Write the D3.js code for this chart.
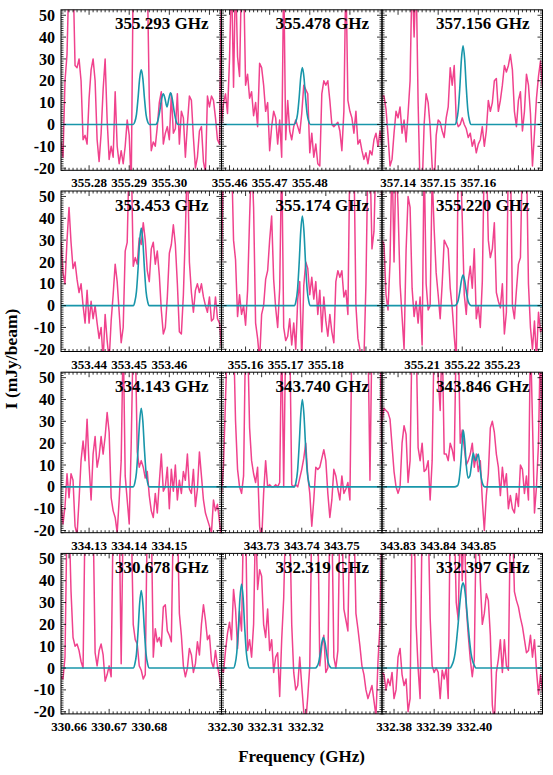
<!DOCTYPE html>
<html><head><meta charset="utf-8">
<script src="https://cdn.jsdelivr.net/npm/d3@7"></script>
<style>body{margin:0;background:#fff}svg{display:block}</style>
</head><body>
<svg id="chart" width="553" height="775"></svg>
<script>
// ---------------- DATA ----------------
const panelFreqs = [355.293, 355.478, 357.156, 353.453, 355.174, 355.220, 334.143, 343.740, 343.846, 330.678, 332.319, 332.397];
const xTickLabels = [
  [355.28, 355.29, 355.30], [355.46, 355.47, 355.48], [357.14, 357.15, 357.16],
  [353.44, 353.45, 353.46], [355.16, 355.17, 355.18], [355.21, 355.22, 355.23],
  [334.13, 334.14, 334.15], [343.73, 343.74, 343.75], [343.83, 343.84, 343.85],
  [330.66, 330.67, 330.68], [332.30, 332.31, 332.32], [332.38, 332.39, 332.40]
];
const yTickLabels = [-20, -10, 0, 10, 20, 30, 40, 50];
// channel grid (MHz offset from panel frequency)
const chanStartMHz = -20;
const chanStepMHz = 0.5;
// observed spectra (mJy/beam)
const spec1 = [-8,-15,20,32,70,70,70,27,26,30,20,-7,-5,-9,12,25,30,20,-7,-17,-4,16,30,2,-16,-10,-15,15,-10,-18,-12,-18,-10,2,-5,-28,70,70,70,70,70,70,70,70,12,-12,-8,-10,-1,10,15,-9,-4,-1,-7,14,-4,-2,14,-9,6,3,-15,0,13,11,-6,-20,-15,-3,-1,-17,-22,13,8,13,11,3,-7,-9,70];
const spec2 = [0,10,14,5,30,70,17,70,31,22,70,70,18,23,12,15,4,10,-1,28,26,18,6,10,-12,-1,6,3,-9,2,-15,70,-7,11,-3,-7,-1,2,-1,-4,5,18,16,14,-13,-4,-15,-9,-18,-19,14,20,18,20,11,0,-1,0,1,-3,-12,6,70,11,6,3,-4,6,-9,-7,-12,-16,-13,-18,-12,-14,-7,-4,-10,-3,-10];
const spec3 = [13,13,7,-5,-19,-16,-4,6,3,8,-4,2,-8,5,20,70,40,70,10,-30,-30,0,14,10,-1,-19,-30,-5,2,1,-3,-6,3,8,26,18,27,2,-1,0,3,0,-2,-6,-4,-10,-7,-13,-9,-7,-1,-10,-3,11,6,10,20,21,6,11,18,27,24,27,32,25,6,-1,11,15,-3,6,23,18,5,-19,-4,12,22,29,17];
const spec4 = [29,15,10,30,45,29,17,20,12,6,10,0,-8,7,-8,2,-6,0,-8,-15,-10,-25,-4,-16,-25,-7,5,19,11,-3,-17,-10,25,29,70,70,18,22,19,31,28,38,30,16,11,26,29,19,25,14,-2,-13,-10,4,24,28,37,28,10,-12,-13,5,34,70,20,6,-3,7,10,6,10,4,0,-3,4,-7,-6,4,-6,-8,-19];
const spec5 = [20,70,70,70,70,70,30,21,-5,5,-4,0,-9,7,40,70,45,-8,-15,-25,-4,0,12,16,30,41,12,-1,-10,8,70,-10,-16,-14,-6,-18,-8,-20,3,11,-25,9,20,17,5,13,3,11,-4,7,-12,4,-7,-14,-4,-12,-17,11,16,13,16,4,7,-4,70,70,70,0,-15,-20,-30,-24,10,70,70,26,34,70,70,60,50];
const spec6 = [30,28,5,-2,20,70,20,70,45,10,-5,-20,25,50,45,8,-5,2,-8,4,-18,70,10,-2,0,60,35,15,5,-6,10,30,28,26,8,-1,-14,-25,70,70,40,5,-4,11,18,8,26,-6,0,-10,11,70,70,30,22,26,38,6,2,-1,10,-13,-3,70,70,0,-6,7,19,22,70,70,70,10,-10,-20,-7,-25,-3,-12,-10];
const spec7 = [-8,-17,-9,6,-5,6,3,-18,-22,-6,12,21,12,31,10,-6,15,23,9,14,23,15,23,34,25,-5,-11,-14,-21,-6,12,70,5,-6,-17,20,70,70,16,9,12,9,4,7,-4,-11,-14,-3,-12,2,15,-2,0,9,-10,8,-2,10,-6,3,-3,7,3,15,-1,-3,8,-9,-1,16,5,-6,-12,-15,-18,-21,-6,-11,-8,-16,-25];
const spec8 = [-3,10,40,70,70,70,70,30,8,0,-3,5,70,70,27,12,6,2,9,-18,-25,-3,12,0,1,0,0,1,0,2,70,0,70,70,70,1,0,1,0,4,8,13,20,5,-3,-18,-6,9,8,9,13,17,12,-3,-14,-6,8,5,-1,-6,5,-3,-1,2,-6,70,70,70,70,70,70,70,70,70,3,70,70,70,70,70,10];
const spec9 = [30,36,35,34,31,19,7,0,-3,0,20,28,24,2,12,70,70,70,18,12,20,7,8,12,-6,12,70,70,50,35,70,15,15,12,20,17,12,70,70,20,26,18,10,12,15,20,9,15,7,12,-6,-20,-4,6,27,30,25,15,9,-4,9,0,6,-10,-4,-10,-12,-3,-9,10,8,-3,5,-6,70,30,-12,0,20,70,5];
const spec10 = [-4,-5,5,70,70,35,14,10,11,8,3,0,70,70,70,70,70,7,1,8,11,6,-6,-3,1,-4,70,70,70,70,2,70,70,70,70,70,20,13,11,1,-1,-5,-3,70,70,70,5,18,12,14,10,28,29,17,15,12,70,70,70,25,15,1,-4,0,9,6,-2,2,12,6,20,29,22,13,15,3,0,8,1,-4,-10];
const spec11 = [0,-2,8,16,21,13,36,27,9,26,17,70,70,8,13,5,20,70,36,45,42,20,14,27,8,13,-2,5,7,-13,13,32,70,70,70,20,-2,-10,-8,5,-8,-20,-25,-13,1,70,70,70,70,1,10,15,-2,0,70,70,5,0,8,70,70,27,22,17,70,70,70,25,18,10,1,-3,-10,-14,-11,-8,-15,-22,3,20,70];
const spec12 = [-2,-3,-10,-5,-8,-2,-14,-10,5,9,-3,-8,-5,-20,-14,70,70,20,0,-14,70,70,70,70,23,1,-2,0,-2,-14,-1,-5,0,-14,70,70,70,30,22,70,40,70,28,15,4,-4,4,70,70,40,20,25,34,31,15,-17,-25,-2,4,13,-2,13,1,-1,70,70,35,31,28,23,19,13,7,8,15,5,13,-1,-12,-3,-11];
// model spectra: [MHz offset, mJy/beam]
const model1 = [[-20,0],[-2,0],[-1.6,1.2],[-1.2,4.5],[-0.8,12],[-0.4,21],[0,25],[0.4,21],[0.8,12],[1.2,4.5],[1.6,1.2],[2,0],[3.6,0],[4.1,1.5],[4.6,6],[5.1,12],[5.5,14],[5.9,12],[6.4,8],[6.9,12],[7.3,14.5],[7.7,12],[8.2,6],[8.7,1.5],[9.2,0],[20,0]];
const model2 = [[-20,0],[-1.85,0],[-1.45,1.3],[-1.05,4.7],[-0.65,12.2],[-0.25,21.6],[0.15,26],[0.55,21.6],[0.95,12.2],[1.35,4.7],[1.75,1.3],[2.15,0],[20,0]];
const model3 = [[-20,0],[-1.8,0],[-1.4,1.8],[-1,6.5],[-0.6,17],[-0.2,30],[0.2,36],[0.6,30],[1,17],[1.4,6.5],[1.8,1.8],[2.2,0],[20,0]];
const model4 = [[-20,0],[-2,0],[-1.6,1.8],[-1.2,6.4],[-0.8,16.7],[-0.4,29.5],[0,35.5],[0.4,29.5],[0.8,16.7],[1.2,6.4],[1.6,1.8],[2,0],[20,0]];
const model5 = [[-20,0],[-1.85,0],[-1.45,2],[-1.05,7.4],[-0.65,19.3],[-0.25,34],[0.15,41],[0.55,34],[0.95,19.3],[1.35,7.4],[1.75,2],[2.15,0],[20,0]];
const model6 = [[-20,0],[-1.8,0],[-1.4,0.7],[-1,2.5],[-0.6,6.6],[-0.2,11.6],[0.2,14],[0.6,11.6],[1,6.6],[1.4,2.5],[1.8,0.7],[2.2,0],[20,0]];
const model7 = [[-20,0],[-2,0],[-1.6,1.8],[-1.2,6.5],[-0.8,17],[-0.4,30],[0,36],[0.4,30],[0.8,17],[1.2,6.5],[1.6,1.8],[2,0],[20,0]];
const model8 = [[-20,0],[-1.85,0],[-1.45,2],[-1.05,7.2],[-0.65,18.8],[-0.25,33],[0.15,40],[0.55,33],[0.95,18.8],[1.35,7.2],[1.75,2],[2.15,0],[20,0]];
const model9 = [[-20,0],[-2,0],[-1.2,0.5],[-0.8,3],[-0.4,10],[0,21],[0.25,26],[0.6,21],[1,10],[1.45,4],[1.9,5],[2.3,10],[2.75,15.5],[3.05,13],[3.35,12],[3.65,13.5],[4,15],[4.35,10],[4.75,4],[5.15,1],[5.6,0],[20,0]];
const model10 = [[-20,0],[-2,0],[-1.6,1.8],[-1.2,6.4],[-0.8,16.7],[-0.4,29.5],[0,35.5],[0.4,29.5],[0.8,16.7],[1.2,6.4],[1.6,1.8],[2,0],[20,0]];
const model11 = [[-20,0],[-17,0],[-16.6,1.9],[-16.2,6.9],[-15.8,18],[-15.4,32],[-15,38.5],[-14.6,32],[-14.2,18],[-13.8,6.9],[-13.4,1.9],[-13,0],[3.4,0],[3.8,0.7],[4.2,2.5],[4.6,6.6],[5,11.6],[5.4,14],[5.8,11.6],[6.2,6.6],[6.6,2.5],[7,0.7],[7.4,0],[20,0]];
const model12 = [[-20,0],[-3,0],[-2.6,1.2],[-2.2,3.1],[-1.8,6.6],[-1.4,12.9],[-1,20.7],[-0.6,29.6],[-0.2,36.3],[0.2,39],[0.6,36.3],[1,29.6],[1.4,20.7],[1.8,12.9],[2.2,6.6],[2.6,3.1],[3,1.2],[3.4,0],[20,0]];

const spectra = [spec1, spec2, spec3, spec4, spec5, spec6, spec7, spec8, spec9, spec10, spec11, spec12];
const models = [model1, model2, model3, model4, model5, model6, model7, model8, model9, model10, model11, model12];

// ---------------- LAYOUT ----------------
const svg = d3.select("#chart");
const FONT = "'Liberation Serif','Times New Roman',Times,serif";
const PINK = "#f0428d", TEAL = "#1896aa";
const left = 61, top0 = 9.8, W = 160.5, H = 160.5, rowStep = 181.2;
const halfSpan = 0.02;
const yDomain = [-21, 52.5];

panelFreqs.forEach((f0, k) => {
  const c = k % 3, r = Math.floor(k / 3);
  const x0 = left + c * W, y0 = top0 + r * rowStep;
  const x = d3.scaleLinear().domain([f0 - halfSpan, f0 + halfSpan]).range([x0, x0 + W]);
  const y = d3.scaleLinear().domain(yDomain).range([y0 + H, y0]);
  const g = svg.append("g");
  const clipId = "clip" + k;
  svg.append("clipPath").attr("id", clipId).append("rect")
    .attr("x", x0).attr("y", y0).attr("width", W).attr("height", H);

  const specPts = spectra[k].map((v, i) => [f0 + (chanStartMHz + i * chanStepMHz) / 1000, v]);
  const modelPts = models[k].map(d => [f0 + d[0] / 1000, d[1]]);

  const line = d3.line().x(d => x(d[0])).y(d => y(d[1]));
  g.append("path").datum(specPts).attr("clip-path", `url(#${clipId})`)
    .attr("fill", "none").attr("stroke", PINK).attr("stroke-width", 1.5)
    .attr("stroke-linejoin", "round").attr("d", line);
  g.append("path").datum(modelPts).attr("clip-path", `url(#${clipId})`)
    .attr("fill", "none").attr("stroke", TEAL).attr("stroke-width", 1.6)
    .attr("d", line.curve(d3.curveMonotoneX));

  // ticks
  let p = "";
  const lo = Math.ceil((f0 - halfSpan) * 1000 + 1e-6), hi = Math.floor((f0 + halfSpan) * 1000 - 1e-6);
  d3.range(lo, hi + 1).forEach(m => {
    const xx = x(m / 1000), len = (m % 10 === 0) ? 5 : 2.5;
    p += `M${xx},${y0 + H}v${-len}M${xx},${y0}v${len}`;
  });
  d3.range(Math.ceil(yDomain[0]), Math.floor(yDomain[1]) + 1).forEach(v => {
    const yy = y(v), len = (v % 10 === 0) ? 5 : 2.5;
    p += `M${x0},${yy}h${len}M${x0 + W},${yy}h${-len}`;
  });
  g.append("path").attr("d", p).attr("stroke", "#000").attr("stroke-width", 0.8).attr("fill", "none");
  g.append("rect").attr("x", x0).attr("y", y0).attr("width", W).attr("height", H)
    .attr("fill", "none").attr("stroke", "#000").attr("stroke-width", 1);

  // x tick labels
  g.selectAll("text.xt").data(xTickLabels[k]).join("text")
    .attr("x", d => x(d)).attr("y", y0 + H + 17)
    .attr("text-anchor", "middle").attr("font-family", FONT).attr("font-weight", "bold")
    .attr("font-size", 13).text(d => d3.format(".2f")(d));

  // y tick labels on left column
  if (c === 0) {
    g.selectAll("text.yt").data(yTickLabels).join("text")
      .attr("x", x0 - 6).attr("y", d => y(d)).attr("dy", "0.35em")
      .attr("text-anchor", "end").attr("font-family", FONT).attr("font-weight", "bold")
      .attr("font-size", 16).text(d => d);
  }
  // panel title
  g.append("text").attr("x", x0 + W - 13).attr("y", y0 + 19.5)
    .attr("text-anchor", "end").attr("font-family", FONT).attr("font-weight", "bold")
    .attr("font-size", 17).text(f0.toFixed(3) + " GHz");
});

// axis titles
svg.append("text").attr("transform", "translate(17,359) rotate(-90)")
  .attr("text-anchor", "middle").attr("font-family", FONT).attr("font-weight", "bold")
  .attr("font-size", 17.5).text("I (mJy/beam)");
svg.append("text").attr("x", 301.5).attr("y", 762)
  .attr("text-anchor", "middle").attr("font-family", FONT).attr("font-weight", "bold")
  .attr("font-size", 17).text("Frequency (GHz)");
</script>
</body></html>
